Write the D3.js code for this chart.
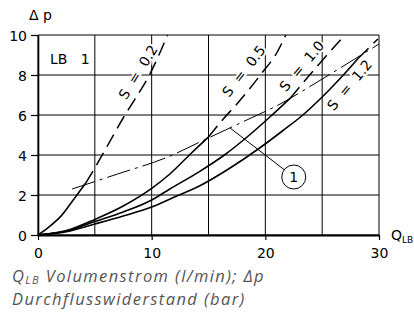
<!DOCTYPE html>
<html>
<head>
<meta charset="utf-8">
<script src="https://cdn.jsdelivr.net/npm/d3@7"></script>
<style>
body { margin: 0; background: #fff; }
svg { display: block; }
.lbl { font-family: "DejaVu Sans", sans-serif; font-size: 14px; fill: #000; }
.cap { font-family: "Open Sans", sans-serif; font-style: italic; font-size: 16.5px; letter-spacing: 1.4px; fill: #555; }
</style>
</head>
<body>
<div id="chart"></div>
<script>
const xTicks = [0, 10, 20, 30];
const yTicks = [0, 2, 4, 6, 8, 10];
const gridQ = [0, 5, 10, 15, 20, 25, 30];
const gridP = [0, 2, 4, 6, 8, 10];

// flow Q (l/min) and pressure drop (bar), one pair per S value
const qS02 = [0, 1, 2, 3.1, 4.2, 5, 6, 7.65, 8.45, 9.8, 11.4];
const pS02 = [0, 0.42, 0.93, 1.75, 2.6, 3.35, 4.35, 6, 6.72, 8, 10];
const qS05 = [0, 2.5, 5, 7.5, 10, 11.6, 13.5, 15, 16.3, 17.5, 18.6, 19.7, 21, 21.8];
const pS05 = [0, 0.22, 0.78, 1.45, 2.33, 3.05, 4.1, 4.9, 5.8, 6.55, 7.3, 8.1, 9.1, 10];
const qS10 = [0, 2.5, 5, 7.5, 10, 11.6, 14.2, 16.4, 18.5, 20.4, 22.2, 24.5, 27];
const pS10 = [0, 0.2, 0.67, 1.15, 1.75, 2.3, 3.17, 4, 4.95, 5.9, 6.85, 8.4, 10];
const qS12 = [0, 2.5, 5, 7.5, 10, 12, 14.2, 16.9, 19.5, 21.5, 23.3, 25, 26.7, 28.2, 29.9];
const pS12 = [0, 0.17, 0.55, 0.95, 1.4, 1.9, 2.45, 3.35, 4.35, 5.2, 6, 6.9, 7.9, 8.85, 9.8];
const sValues = ["0.2", "0.5", "1.0", "1.2"];
// solid below this flow, dashed above
const splitQ = [4.2, 15, 22.2, 28.2];

// limit line (1)
const qLimit = [3, 7, 11.2, 14.8, 17.8, 21.3, 24, 26.3, 30];
const pLimit = [2.3, 3.05, 3.85, 4.8, 5.6, 6.55, 7.45, 8.25, 9.55];
const calloutFrom = [16.9, 5.35];
const calloutAt = [22.5, 2.9];

const W = 414, H = 322;
const svg = d3.select("#chart").append("svg")
    .attr("width", W)
    .attr("height", H);

const x = d3.scaleLinear().domain([0, 30]).range([38, 379]);
const y = d3.scaleLinear().domain([0, 10]).range([235, 35]);

// grid
svg.append("g").selectAll("line")
    .data(gridQ)
    .join("line")
    .attr("x1", d => x(d)).attr("x2", d => x(d))
    .attr("y1", y(0)).attr("y2", y(10))
    .attr("stroke", "#000").attr("stroke-width", 1);

svg.append("g").selectAll("line")
    .data(gridP)
    .join("line")
    .attr("x1", x(0)).attr("x2", x(30))
    .attr("y1", d => y(d)).attr("y2", d => y(d))
    .attr("stroke", "#000").attr("stroke-width", 1);

// axes
const xAxis = svg.append("g")
    .attr("transform", "translate(0," + y(0) + ")")
    .call(d3.axisBottom(x).tickValues(xTicks).tickSize(5).tickSizeOuter(0).tickPadding(8));
xAxis.select(".domain").attr("stroke-width", 2);

const yAxis = svg.append("g")
    .attr("transform", "translate(" + x(0) + ",0)")
    .call(d3.axisLeft(y).tickValues(yTicks).tickSize(7).tickSizeOuter(0).tickPadding(4));
yAxis.select(".domain").attr("stroke-width", 1.6);

svg.selectAll(".tick line").attr("stroke", "#000").attr("stroke-width", 1.2);
svg.selectAll(".tick text")
    .attr("font-family", "DejaVu Sans, sans-serif")
    .attr("font-size", 14)
    .attr("fill", "#000");
yAxis.selectAll(".tick text").attr("dy", "0.36em");

// axis titles
svg.append("text").attr("class", "lbl")
    .attr("x", 29).attr("y", 20)
    .style("white-space", "pre")
    .text("\u0394 p");

const qTitle = svg.append("text").attr("class", "lbl")
    .attr("x", 391).attr("y", 240);
qTitle.append("tspan").text("Q");
qTitle.append("tspan").attr("font-size", 9).attr("dy", 3).text("LB");

svg.append("text").attr("class", "lbl")
    .attr("x", 50).attr("y", 64)
    .attr("font-size", 13)
    .style("white-space", "pre")
    .text("LB   1");

// curves
const line = d3.line()
    .x(d => x(d[0]))
    .y(d => y(d[1]))
    .curve(d3.curveMonotoneX);

const curveSets = [[qS02, pS02], [qS05, pS05], [qS10, pS10], [qS12, pS12]];
const curves = curveSets.map(([qs, ps], i) => ({
    s: sValues[i],
    pts: qs.map((q, j) => [q, ps[j]]),
    split: splitQ[i]
}));

const gCurves = svg.append("g");
curves.forEach(c => {
    gCurves.append("path")
        .attr("d", line(c.pts.filter(d => d[0] <= c.split)))
        .attr("fill", "none")
        .attr("stroke", "#000")
        .attr("stroke-width", 1.6);
    gCurves.append("path")
        .attr("d", line(c.pts.filter(d => d[0] >= c.split)))
        .attr("fill", "none")
        .attr("stroke", "#000")
        .attr("stroke-width", 1.5)
        .attr("stroke-dasharray", "14,7");
});

// limit line
svg.append("path")
    .attr("d", line(qLimit.map((q, j) => [q, pLimit[j]])))
    .attr("fill", "none")
    .attr("stroke", "#000")
    .attr("stroke-width", 1)
    .attr("stroke-dasharray", "24,5,3,5");

// callout (1)
const cx = x(calloutAt[0]), cy = y(calloutAt[1]), r = 12;
const sx = x(calloutFrom[0]), sy = y(calloutFrom[1]);
const len = Math.hypot(cx - sx, cy - sy);
svg.append("line")
    .attr("x1", sx).attr("y1", sy)
    .attr("x2", cx - (cx - sx) / len * r)
    .attr("y2", cy - (cy - sy) / len * r)
    .attr("stroke", "#000").attr("stroke-width", 1);
svg.append("circle")
    .attr("cx", cx).attr("cy", cy).attr("r", r)
    .attr("fill", "#fff").attr("stroke", "#000").attr("stroke-width", 1);
svg.append("text").attr("class", "lbl")
    .attr("x", cx).attr("y", cy)
    .attr("text-anchor", "middle")
    .attr("dominant-baseline", "central")
    .text("1");

// curve labels
const labelPos = [
    { q: 8.8, p: 8.15, a: -58 },
    { q: 18.1, p: 8.2, a: -52 },
    { q: 23.2, p: 8.45, a: -50 },
    { q: 27.4, p: 7.5, a: -50 }
];
curves.forEach((c, i) => {
    const lp = labelPos[i];
    svg.append("text").attr("class", "lbl")
        .attr("transform", "translate(" + x(lp.q) + "," + y(lp.p) + ") rotate(" + lp.a + ")")
        .attr("text-anchor", "middle")
        .attr("dominant-baseline", "central")
        .style("white-space", "pre")
        .attr("stroke", "#fff")
        .attr("stroke-width", 4)
        .attr("paint-order", "stroke")
        .text("S  =  " + c.s);
});

// caption, two lines
const l1 = svg.append("text").attr("class", "cap")
    .attr("x", 12).attr("y", 282);
l1.append("tspan").text("Q");
l1.append("tspan").attr("font-size", 11).attr("dy", 2).text("LB");
l1.append("tspan").attr("dy", -2).text(" Volumenstrom (l/min); \u0394p");
svg.append("text").attr("class", "cap")
    .attr("x", 12).attr("y", 305)
    .text("Durchflusswiderstand (bar)");
</script>
</body>
</html>
